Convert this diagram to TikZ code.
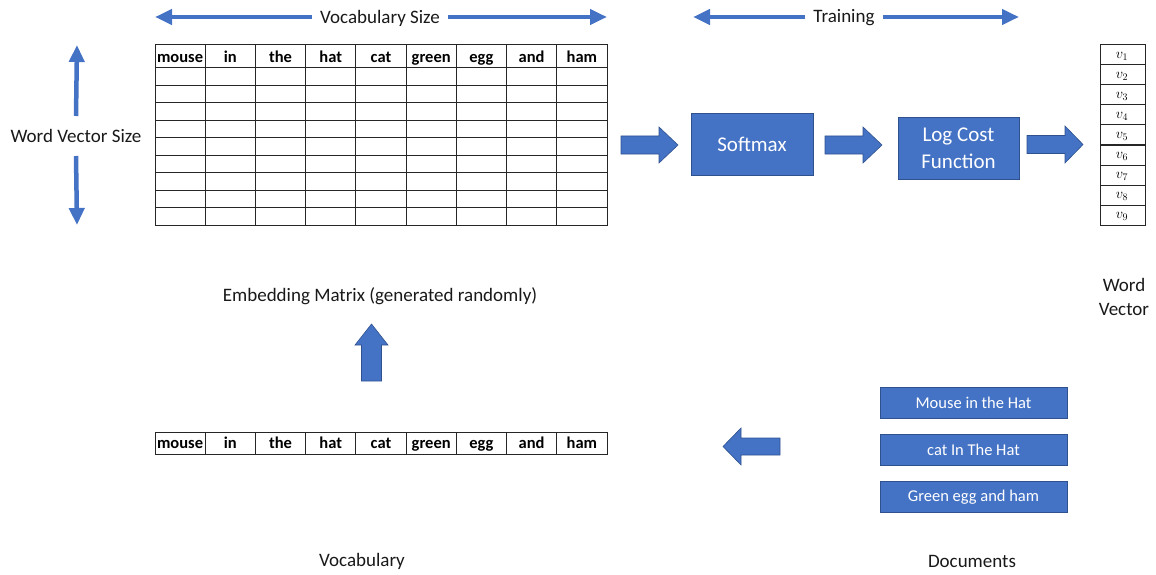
\documentclass[tikz,border=0pt]{standalone}
\usepackage{fontspec}
\setmainfont{Carlito}
\usetikzlibrary{arrows.meta}
\definecolor{office}{HTML}{4472C4}
\definecolor{officedk}{HTML}{2F528F}
\begin{document}
\begin{tikzpicture}[x=1pt,y=-1pt,
  lbl/.style={font=\fontsize{19}{23}\selectfont, text=black!90, inner sep=0pt},
  hdr/.style={font=\bfseries\fontsize{16.5}{18}\selectfont, inner sep=0pt, text height=11pt, text depth=3.5pt},
  gridline/.style={draw=black!85, line width=1pt},
  bluebox/.style={fill=office, draw=officedk, line width=0.8pt, text=white, inner sep=0pt},
  blockarrow/.style={fill=office, draw=officedk, line width=0.6pt},
  dblarrow/.style={draw=office, line width=4.5pt, -{Triangle[length=17pt,width=15pt]}},
  pics/rblock/.style args={#1/#2/#3/#4}{code={
    \draw[blockarrow] (0,-#3) -- (#2,-#3) -- (#2,-#4) -- (#1,0) -- (#2,#4) -- (#2,#3) -- (0,#3) -- cycle;}}]
\useasboundingbox (0,0) rectangle (1156,575);

% ---- embedding matrix ----
\draw[gridline] (155,45) rectangle (607,225.5);
\foreach \i in {1,...,8} \draw[gridline] ({155+\i*50.22},45) -- ++(0,180.5);
\draw[gridline] (155,67.7) -- (607,67.7);
\foreach \j in {1,...,8} \draw[gridline] (155,{67.7+\j*17.53}) -- (607,{67.7+\j*17.53});
\foreach \w [count=\i from 0] in {mouse,in,the,hat,cat,green,egg,and,ham}
  \node[hdr] (emb-\i) at ({180.1+\i*50.22},58.5) {\w};

% ---- vocabulary row ----
\draw[gridline] (155,432) rectangle (607,454);
\foreach \i in {1,...,8} \draw[gridline] ({155+\i*50.22},432) -- ++(0,22);
\foreach \w [count=\i from 0] in {mouse,in,the,hat,cat,green,egg,and,ham}
  \node[hdr] (voc-\i) at ({180.1+\i*50.22},444.5) {\w};

% ---- word vector ----
\draw[gridline] (1100,45) rectangle (1145,225);
\foreach \j in {1,...,8} \draw[gridline] (1100,{45+\j*20}) -- (1145,{45+\j*20});
\foreach \j in {1,...,9}
  \node[font=\fontsize{14}{16}\selectfont, inner sep=0pt, text height=6pt, text depth=3pt] (v-\j) at (1122,{57+(\j-1)*20}) {$v_{\j}$};

% ---- dimension arrows ----
\node[lbl, inner xsep=8pt] (vs) at (380,18) {Vocabulary Size};
\coordinate (vsL) at (155,17);
\coordinate (vsR) at (607,17);
\draw[dblarrow] (vs.west|-vsL) -- (vsL);
\draw[dblarrow] (vs.east|-vsR) -- (vsR);

\node[lbl, inner xsep=8pt] (tr) at (844,18) {Training};
\coordinate (trL) at (693,17);
\coordinate (trR) at (1019,17);
\draw[dblarrow] (tr.west|-trL) -- (trL);
\draw[dblarrow] (tr.east|-trR) -- (trR);

\node[lbl] (wvs) at (76,136) {Word Vector Size};
\coordinate (wvsT) at (77,45);
\coordinate (wvsB) at (77,225);
\draw[dblarrow] ([yshift=20pt]wvs.center) -- (wvsT);
\draw[dblarrow] ([yshift=-20pt]wvs.center) -- (wvsB);

% ---- processing boxes ----
\node[bluebox, minimum width=122pt, minimum height=62pt, font=\fontsize{21}{26}\selectfont] (soft) at (752,144) {Softmax};
\node[bluebox, minimum width=121pt, minimum height=62pt, align=center, font=\fontsize{21}{27}\selectfont] (cost) at (958.5,148) {Log Cost\\Function};

% ---- block arrows ----
\pic at (621,145) {rblock=57/38/9/18};
\pic at (825,145) {rblock=57/38/9/18};
\pic at (1027,144.5) {rblock=56/38/9/18.5};
\pic[rotate=90] at (371.5,381) {rblock=57/36/10/16.5};
\pic[rotate=180] at (780,446.5) {rblock=57/39/8.5/18.5};

% ---- documents ----
\node[bluebox, minimum width=187pt, minimum height=31pt, font=\fontsize{16.5}{19}\selectfont] (d1) at (973.5,402.5) {Mouse in the Hat};
\node[bluebox, minimum width=187pt, minimum height=31pt, font=\fontsize{16.5}{19}\selectfont] (d2) at (973.5,449.5) {cat In The Hat};
\node[bluebox, minimum width=187pt, minimum height=31pt, font=\fontsize{16.5}{19}\selectfont] (d3) at (973.5,497) {Green egg and ham};

% ---- captions ----
\node[lbl] (embcap) at (380,296) {Embedding Matrix (generated randomly)};
\node[lbl, align=center, font=\fontsize{19}{24}\selectfont] (wvcap) at (1124,297) {Word\\Vector};
\node[lbl] (voccap) at (362,561) {Vocabulary};
\node[lbl] (doccap) at (972,561) {Documents};
\end{tikzpicture}
\end{document}
